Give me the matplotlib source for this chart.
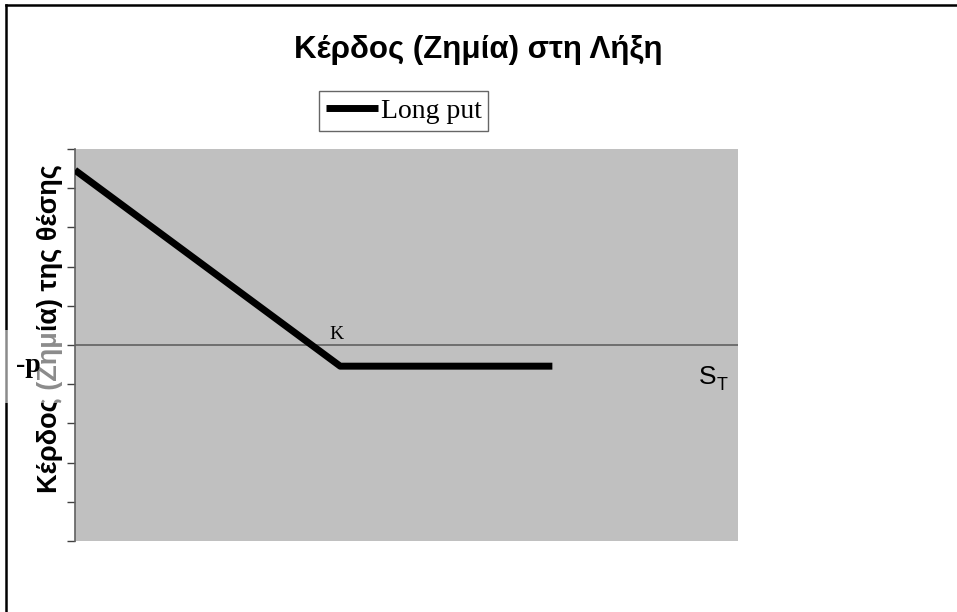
import matplotlib
matplotlib.use("Agg")
import matplotlib.pyplot as plt
from matplotlib.lines import Line2D
from matplotlib.patches import Rectangle

# Long put payoff at expiry
spot_at_expiry = [0, 10, 20, 30, 40, 50, 60, 70, 80, 90]
profit = [44.6, 34.6, 24.6, 14.6, 4.6, -5.4, -5.4, -5.4, -5.4, -5.4]
strike = 50
premium = 5.4
y_ticks = [-50, -40, -30, -20, -10, 0, 10, 20, 30, 40, 50]

W, H = 957, 612
fig = plt.figure(figsize=(W / 100, H / 100), dpi=100)
fig.patch.set_facecolor("white")

def fx(px):
    return px / W

def fy(py):
    return 1 - py / H

ax = fig.add_axes([fx(75), fy(541), fx(738) - fx(75), fy(149) - fy(541)])
ax.set_facecolor("#c0c0c0")
ax.set_xlim(0, 125)
ax.set_ylim(-50, 50)

for side in ("top", "right", "bottom"):
    ax.spines[side].set_visible(False)
ax.spines["left"].set_color("#606060")
ax.spines["left"].set_linewidth(1.2)
ax.set_xticks([])
ax.set_yticks(y_ticks)
ax.set_yticklabels([])
ax.tick_params(axis="y", direction="out", length=6, width=1, color="#404040")

ax.axhline(0, color="#606060", linewidth=1.2, zorder=1)
line, = ax.plot(spot_at_expiry, profit, color="black", linewidth=5,
                solid_capstyle="butt", zorder=3, label="Long put")

ax.text(strike - 0.8, 0.4, "K", ha="center", va="bottom",
        fontsize=14, family="Liberation Serif")

# Title
fig.text(0.5, fy(50), "Κέρδος (Ζημία) στη Λήξη", ha="center", va="center",
         fontsize=22.5, fontweight="bold",
         family=["Liberation Sans", "DejaVu Sans"])

# Legend box
leg = fig.legend(handles=[line], loc="center",
                 bbox_to_anchor=(fx(403.5), fy(111)),
                 frameon=True, fancybox=False, handlelength=1.9,
                 handletextpad=0.08, borderpad=0.25, borderaxespad=0,
                 prop={"family": "Liberation Serif", "size": 20})
leg.get_frame().set_edgecolor("#404040")
leg.get_frame().set_linewidth(1.0)

# Y axis title
fig.text(fx(50), fy(329), "Κέρδος (Ζημία) της θέσης", rotation=90,
         ha="center", va="center", fontsize=19.5, fontweight="bold",
         family=["Liberation Sans", "DejaVu Sans"])

# Outer frame (left and top edges)
fig.add_artist(Line2D([fx(6), fx(6)], [0, fy(5)], color="black", linewidth=1.8))
fig.add_artist(Line2D([fx(6), 1], [fy(5), fy(5)], color="black", linewidth=1.8))

# Premium label with translucent backing
fig.add_artist(Rectangle((0, fy(403)), fx(63), fy(330) - fy(403),
                         transform=fig.transFigure, facecolor="white",
                         alpha=0.55, edgecolor="none", zorder=5))
fig.text(fx(28), fy(366), "-p", ha="center", va="center", fontsize=20,
         fontweight="bold", family="Liberation Serif", zorder=6)

# Axis name S_T
fig.text(fx(699), fy(377), "S", ha="left", va="center", fontsize=19,
         family="Liberation Sans")
fig.text(fx(717), fy(385), "T", ha="left", va="center", fontsize=13,
         family="Liberation Sans")

fig.savefig("out.png", dpi=100)
